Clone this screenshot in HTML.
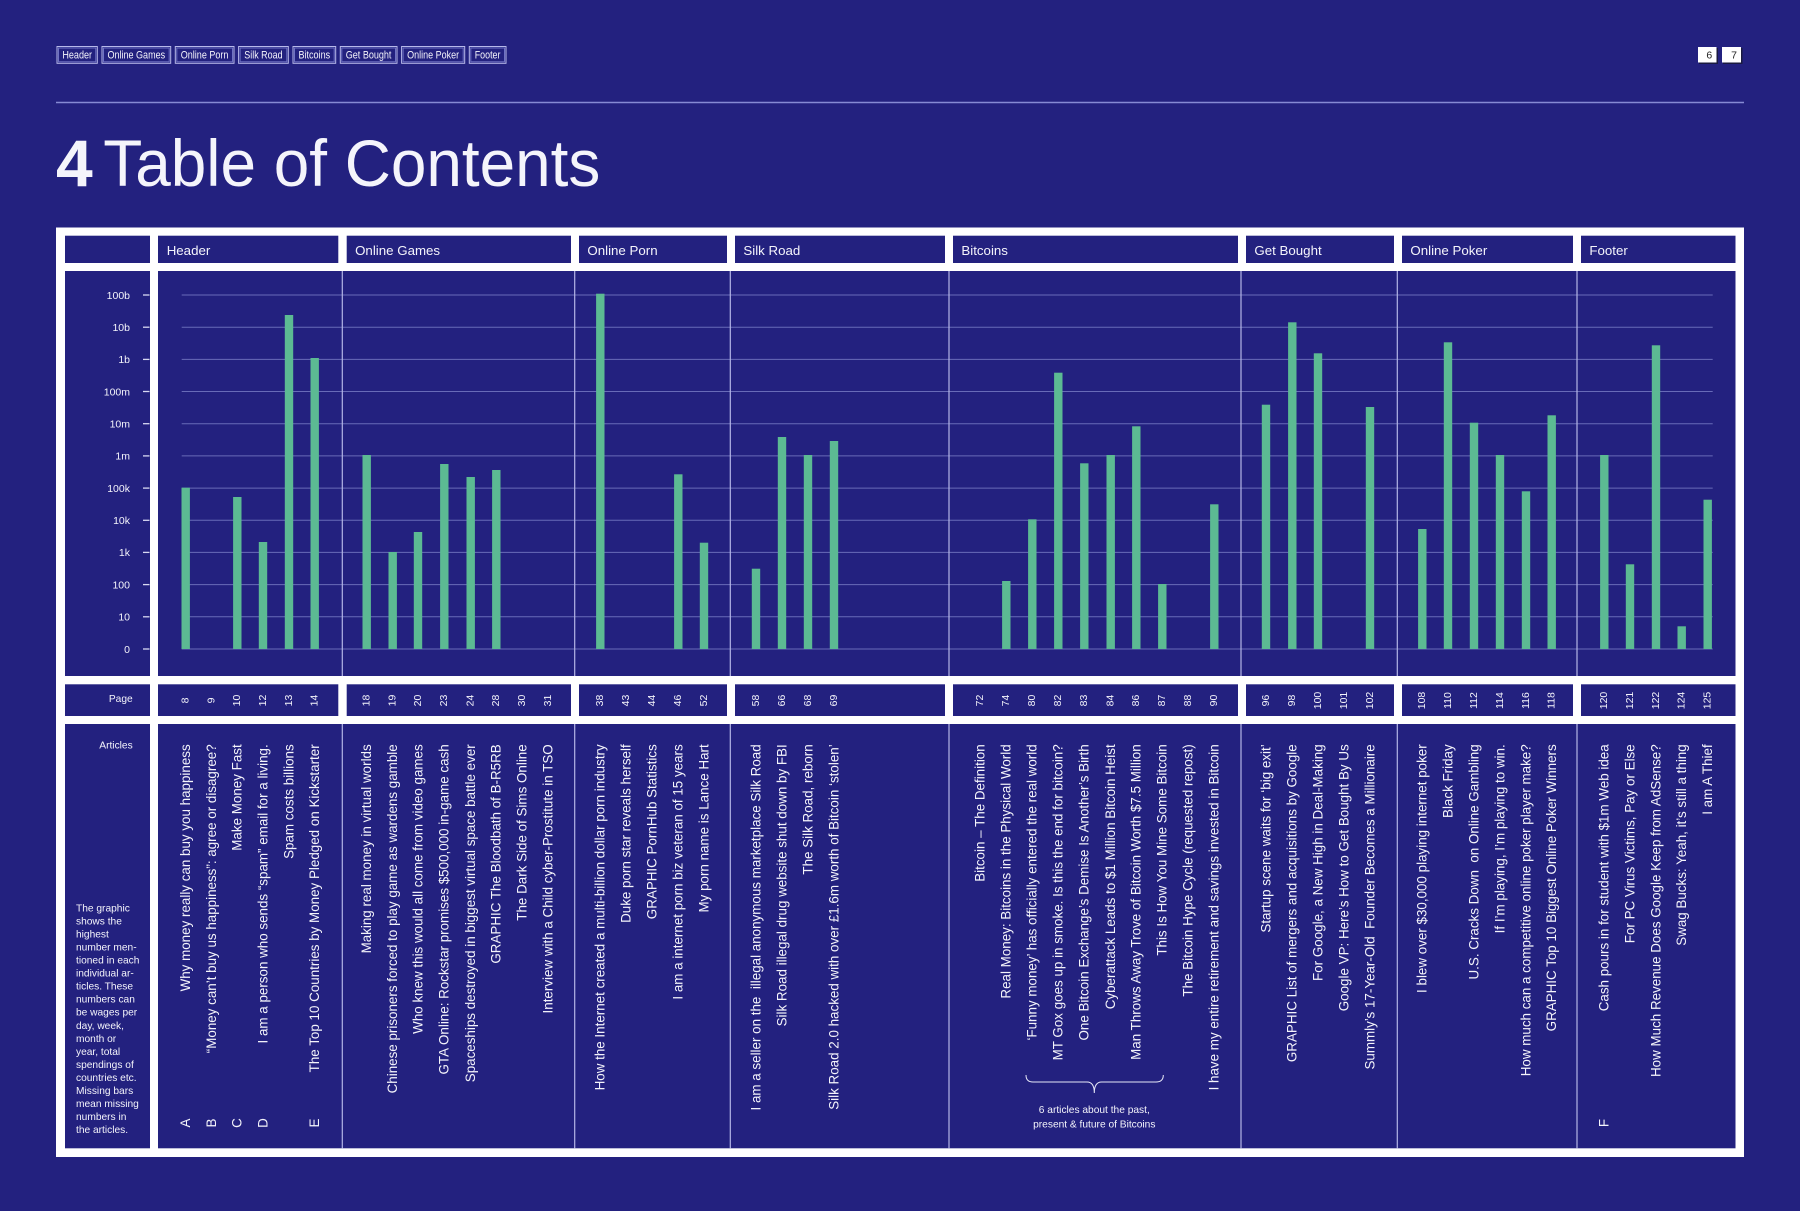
<!DOCTYPE html>
<html>
<head>
<meta charset="utf-8">
<style>
  html,body{margin:0;padding:0;background:#23217f;}
  svg{display:block;}
  text{font-family:"Liberation Sans",Arial,sans-serif;fill:#f4f4fb;}
  .nav{font-size:11px;}
  .hd{font-size:13.3px;}
  .yl{font-size:10.5px;}
  .pg{font-size:10.5px;}
  .ar{font-size:13.4px;}
  .sm{font-size:10.2px;}
  .grid{stroke:#8084cc;stroke-width:1;opacity:0.75;}
  .div{stroke:#b4b6e6;stroke-width:1.2;}
  .bar{fill:#5cba93;}
</style>
</head>
<body>
<svg width="1800" height="1211" viewBox="0 0 1800 1211" xmlns="http://www.w3.org/2000/svg">
  <rect x="0" y="0" width="1800" height="1211" fill="#23217f"/>

  <!-- nav buttons -->
  <g fill="none" stroke="#b7b9ea" stroke-width="1">
    <rect x="57" y="46.5" width="40.3" height="16.8"/>
    <rect x="102" y="46.5" width="68.7" height="16.8"/>
    <rect x="175.3" y="46.5" width="58.7" height="16.8"/>
    <rect x="238.6" y="46.5" width="49.7" height="16.8"/>
    <rect x="293" y="46.5" width="42.7" height="16.8"/>
    <rect x="340.3" y="46.5" width="56.7" height="16.8"/>
    <rect x="401.6" y="46.5" width="63.1" height="16.8"/>
    <rect x="469.3" y="46.5" width="36.7" height="16.8"/>
  </g>
  <g fill="none" stroke="#6f72c4" stroke-width="1">
    <rect x="58.5" y="48" width="37.3" height="13.8"/>
    <rect x="103.5" y="48" width="65.7" height="13.8"/>
    <rect x="176.8" y="48" width="55.7" height="13.8"/>
    <rect x="240.1" y="48" width="46.7" height="13.8"/>
    <rect x="294.5" y="48" width="39.7" height="13.8"/>
    <rect x="341.8" y="48" width="53.7" height="13.8"/>
    <rect x="403.1" y="48" width="60.1" height="13.8"/>
    <rect x="470.8" y="48" width="33.7" height="13.8"/>
  </g>
  <g class="nav" text-anchor="middle">
    <text x="77.2" y="58.6" textLength="29.7" lengthAdjust="spacingAndGlyphs">Header</text>
    <text x="136.3" y="58.6" textLength="57.7" lengthAdjust="spacingAndGlyphs">Online Games</text>
    <text x="204.6" y="58.6" textLength="47.7" lengthAdjust="spacingAndGlyphs">Online Porn</text>
    <text x="263.4" y="58.6" textLength="38.3" lengthAdjust="spacingAndGlyphs">Silk Road</text>
    <text x="314.3" y="58.6" textLength="31.7" lengthAdjust="spacingAndGlyphs">Bitcoins</text>
    <text x="368.6" y="58.6" textLength="45.7" lengthAdjust="spacingAndGlyphs">Get Bought</text>
    <text x="433.1" y="58.6" textLength="52" lengthAdjust="spacingAndGlyphs">Online Poker</text>
    <text x="487.6" y="58.6" textLength="25.7" lengthAdjust="spacingAndGlyphs">Footer</text>
  </g>

  <!-- page buttons -->
  <rect x="1699" y="48" width="19" height="16" fill="#1a1a40"/>
  <rect x="1698" y="47" width="18.5" height="15.5" fill="#ffffff"/>
  <rect x="1723" y="48" width="19.5" height="16" fill="#1a1a40"/>
  <rect x="1722" y="47" width="19" height="15.5" fill="#ffffff"/>
  <text x="1709.3" y="58.3" font-size="10.5" text-anchor="middle" style="fill:#222">6</text>
  <text x="1734" y="58.3" font-size="10.5" text-anchor="middle" style="fill:#222">7</text>

  <!-- rule -->
  <line x1="56" y1="102.5" x2="1744" y2="102.5" stroke="#868ad4" stroke-width="1.6"/>

  <!-- title -->
  <text x="56" y="186" font-size="66" font-weight="bold">4</text>
  <text x="103.3" y="186" font-size="66" textLength="497" lengthAdjust="spacingAndGlyphs">Table of Contents</text>

  <!-- frame -->
  <rect x="56" y="227.5" width="1688" height="929.5" fill="#ffffff"/>
  <g fill="#23217f">
    <!-- row 1 -->
    <rect x="65" y="235.7" width="85" height="27.3"/>
    <rect x="158" y="235.7" width="180.3" height="27.3"/>
    <rect x="346.7" y="235.7" width="224.3" height="27.3"/>
    <rect x="579" y="235.7" width="148" height="27.3"/>
    <rect x="735" y="235.7" width="210" height="27.3"/>
    <rect x="953" y="235.7" width="285" height="27.3"/>
    <rect x="1246" y="235.7" width="148" height="27.3"/>
    <rect x="1402" y="235.7" width="171" height="27.3"/>
    <rect x="1581" y="235.7" width="154.5" height="27.3"/>
    <!-- row 2 -->
    <rect x="65" y="271" width="85" height="405"/>
    <rect x="158" y="271" width="1577.5" height="405"/>
    <!-- row 3 -->
    <rect x="65" y="684.3" width="85" height="31.7"/>
    <rect x="158" y="684.3" width="180.3" height="31.7"/>
    <rect x="346.7" y="684.3" width="224.3" height="31.7"/>
    <rect x="579" y="684.3" width="148" height="31.7"/>
    <rect x="735" y="684.3" width="210" height="31.7"/>
    <rect x="953" y="684.3" width="285" height="31.7"/>
    <rect x="1246" y="684.3" width="148" height="31.7"/>
    <rect x="1402" y="684.3" width="171" height="31.7"/>
    <rect x="1581" y="684.3" width="154.5" height="31.7"/>
    <!-- row 4 -->
    <rect x="65" y="724" width="85" height="424.3"/>
    <rect x="158" y="724" width="1577.5" height="424.3"/>
  </g>

  <!-- section headers -->
  <g class="hd">
    <text x="166.7" y="254.8">Header</text>
    <text x="355.1" y="254.8">Online Games</text>
    <text x="587.4" y="254.8">Online Porn</text>
    <text x="743.4" y="254.8">Silk Road</text>
    <text x="961.4" y="254.8">Bitcoins</text>
    <text x="1254.4" y="254.8">Get Bought</text>
    <text x="1410.4" y="254.8">Online Poker</text>
    <text x="1589.4" y="254.8">Footer</text>
  </g>

  <!-- gridlines -->
  <g class="grid">
    <line x1="181.7" y1="295" x2="1712.7" y2="295"/>
    <line x1="181.7" y1="327.2" x2="1712.7" y2="327.2"/>
    <line x1="181.7" y1="359.4" x2="1712.7" y2="359.4"/>
    <line x1="181.7" y1="391.5" x2="1712.7" y2="391.5"/>
    <line x1="181.7" y1="423.7" x2="1712.7" y2="423.7"/>
    <line x1="181.7" y1="455.9" x2="1712.7" y2="455.9"/>
    <line x1="181.7" y1="488.1" x2="1712.7" y2="488.1"/>
    <line x1="181.7" y1="520.3" x2="1712.7" y2="520.3"/>
    <line x1="181.7" y1="552.4" x2="1712.7" y2="552.4"/>
    <line x1="181.7" y1="584.6" x2="1712.7" y2="584.6"/>
    <line x1="181.7" y1="616.8" x2="1712.7" y2="616.8"/>
    <line x1="181.7" y1="649" x2="1712.7" y2="649"/>
  </g>

  <!-- y axis ticks & labels -->
  <g stroke="#d8d9f2" stroke-width="1.3">
    <line x1="143" y1="295" x2="149.5" y2="295"/>
    <line x1="143" y1="327.2" x2="149.5" y2="327.2"/>
    <line x1="143" y1="359.4" x2="149.5" y2="359.4"/>
    <line x1="143" y1="391.5" x2="149.5" y2="391.5"/>
    <line x1="143" y1="423.7" x2="149.5" y2="423.7"/>
    <line x1="143" y1="455.9" x2="149.5" y2="455.9"/>
    <line x1="143" y1="488.1" x2="149.5" y2="488.1"/>
    <line x1="143" y1="520.3" x2="149.5" y2="520.3"/>
    <line x1="143" y1="552.4" x2="149.5" y2="552.4"/>
    <line x1="143" y1="584.6" x2="149.5" y2="584.6"/>
    <line x1="143" y1="616.8" x2="149.5" y2="616.8"/>
    <line x1="143" y1="649" x2="149.5" y2="649"/>
  </g>
  <g class="yl" text-anchor="end">
    <text x="130" y="298.8">100b</text>
    <text x="130" y="331">10b</text>
    <text x="130" y="363.2">1b</text>
    <text x="130" y="395.3">100m</text>
    <text x="130" y="427.5">10m</text>
    <text x="130" y="459.7">1m</text>
    <text x="130" y="491.9">100k</text>
    <text x="130" y="524.1">10k</text>
    <text x="130" y="556.2">1k</text>
    <text x="130" y="588.4">100</text>
    <text x="130" y="620.6">10</text>
    <text x="130" y="652.8">0</text>
  </g>

  <!-- dividers -->
  <g class="div">
    <line x1="342.3" y1="271" x2="342.3" y2="676"/>
    <line x1="574.7" y1="271" x2="574.7" y2="676"/>
    <line x1="730.3" y1="271" x2="730.3" y2="676"/>
    <line x1="949" y1="271" x2="949" y2="676"/>
    <line x1="1241" y1="271" x2="1241" y2="676"/>
    <line x1="1397.3" y1="271" x2="1397.3" y2="676"/>
    <line x1="1577" y1="271" x2="1577" y2="676"/>
    <line x1="342.3" y1="724" x2="342.3" y2="1148.3"/>
    <line x1="574.7" y1="724" x2="574.7" y2="1148.3"/>
    <line x1="730.3" y1="724" x2="730.3" y2="1148.3"/>
    <line x1="949" y1="724" x2="949" y2="1148.3"/>
    <line x1="1241" y1="724" x2="1241" y2="1148.3"/>
    <line x1="1397.3" y1="724" x2="1397.3" y2="1148.3"/>
    <line x1="1577" y1="724" x2="1577" y2="1148.3"/>
  </g>

  <!-- bars -->
  <g class="bar">
    <rect x="181.5" y="487.7" width="8.4" height="161.3"/>
    <rect x="233.1" y="497" width="8.4" height="152"/>
    <rect x="258.8" y="542" width="8.4" height="107"/>
    <rect x="284.8" y="315" width="8.4" height="334"/>
    <rect x="310.5" y="358" width="8.4" height="291"/>

    <rect x="362.5" y="455" width="8.4" height="194"/>
    <rect x="388.5" y="552" width="8.4" height="97"/>
    <rect x="413.8" y="532" width="8.4" height="117"/>
    <rect x="440.1" y="464" width="8.4" height="185"/>
    <rect x="466.5" y="477" width="8.4" height="172"/>
    <rect x="492.1" y="470" width="8.4" height="179"/>

    <rect x="596.1" y="293.7" width="8.4" height="355.3"/>
    <rect x="674.1" y="474.3" width="8.4" height="174.7"/>
    <rect x="699.8" y="542.7" width="8.4" height="106.3"/>

    <rect x="751.8" y="568.7" width="8.4" height="80.3"/>
    <rect x="777.8" y="437" width="8.4" height="212"/>
    <rect x="803.8" y="455" width="8.4" height="194"/>
    <rect x="829.8" y="441" width="8.4" height="208"/>

    <rect x="1002.1" y="581" width="8.4" height="68"/>
    <rect x="1028.1" y="519.3" width="8.4" height="129.7"/>
    <rect x="1054.1" y="372.7" width="8.4" height="276.3"/>
    <rect x="1080.1" y="463.3" width="8.4" height="185.7"/>
    <rect x="1106.5" y="455" width="8.4" height="194"/>
    <rect x="1132.1" y="426.3" width="8.4" height="222.7"/>
    <rect x="1158.1" y="584" width="8.4" height="65"/>
    <rect x="1210.1" y="504.3" width="8.4" height="144.7"/>

    <rect x="1261.8" y="404.7" width="8.4" height="244.3"/>
    <rect x="1288.1" y="322.3" width="8.4" height="326.7"/>
    <rect x="1313.8" y="353.3" width="8.4" height="295.7"/>
    <rect x="1365.8" y="407" width="8.4" height="242"/>

    <rect x="1418.1" y="529" width="8.4" height="120"/>
    <rect x="1443.8" y="342.3" width="8.4" height="306.7"/>
    <rect x="1469.8" y="422.7" width="8.4" height="226.3"/>
    <rect x="1495.8" y="455" width="8.4" height="194"/>
    <rect x="1521.8" y="491.3" width="8.4" height="157.7"/>
    <rect x="1547.5" y="415.3" width="8.4" height="233.7"/>

    <rect x="1600.1" y="455" width="8.4" height="194"/>
    <rect x="1625.8" y="564.3" width="8.4" height="84.7"/>
    <rect x="1651.8" y="345.3" width="8.4" height="303.7"/>
    <rect x="1677.5" y="626.3" width="8.4" height="22.7"/>
    <rect x="1703.5" y="499.7" width="8.4" height="149.3"/>
  </g>

  <!-- left column labels -->
  <text x="132.7" y="702" class="sm" text-anchor="end">Page</text>
  <text x="132.7" y="748.7" class="sm" text-anchor="end">Articles</text>
  <g class="sm">
    <text x="76" y="911.4">The graphic</text>
    <text x="76" y="924.4">shows the</text>
    <text x="76" y="937.5">highest</text>
    <text x="76" y="950.5">number men-</text>
    <text x="76" y="963.6">tioned in each</text>
    <text x="76" y="976.6">individual ar-</text>
    <text x="76" y="989.6">ticles. These</text>
    <text x="76" y="1002.7">numbers can</text>
    <text x="76" y="1015.7">be wages per</text>
    <text x="76" y="1028.8">day, week,</text>
    <text x="76" y="1041.8">month or</text>
    <text x="76" y="1054.8">year,  total</text>
    <text x="76" y="1067.9">spendings of</text>
    <text x="76" y="1080.9">countries etc.</text>
    <text x="76" y="1094">Missing bars</text>
    <text x="76" y="1107">mean missing</text>
    <text x="76" y="1120">numbers in</text>
    <text x="76" y="1133.1">the articles.</text>
  </g>

  <!-- page numbers -->
  <g class="pg" text-anchor="middle">
    <text transform="translate(188.5,700.5) rotate(-90)">8</text>
    <text transform="translate(214.3,700.5) rotate(-90)">9</text>
    <text transform="translate(240.1,700.5) rotate(-90)">10</text>
    <text transform="translate(265.8,700.5) rotate(-90)">12</text>
    <text transform="translate(291.8,700.5) rotate(-90)">13</text>
    <text transform="translate(317.5,700.5) rotate(-90)">14</text>

    <text transform="translate(369.5,700.5) rotate(-90)">18</text>
    <text transform="translate(395.5,700.5) rotate(-90)">19</text>
    <text transform="translate(420.8,700.5) rotate(-90)">20</text>
    <text transform="translate(447.1,700.5) rotate(-90)">23</text>
    <text transform="translate(473.5,700.5) rotate(-90)">24</text>
    <text transform="translate(499.1,700.5) rotate(-90)">28</text>
    <text transform="translate(525,700.5) rotate(-90)">30</text>
    <text transform="translate(550.8,700.5) rotate(-90)">31</text>

    <text transform="translate(603.1,700.5) rotate(-90)">38</text>
    <text transform="translate(629.1,700.5) rotate(-90)">43</text>
    <text transform="translate(655.1,700.5) rotate(-90)">44</text>
    <text transform="translate(681.1,700.5) rotate(-90)">46</text>
    <text transform="translate(706.8,700.5) rotate(-90)">52</text>

    <text transform="translate(758.8,700.5) rotate(-90)">58</text>
    <text transform="translate(784.8,700.5) rotate(-90)">66</text>
    <text transform="translate(810.8,700.5) rotate(-90)">68</text>
    <text transform="translate(836.8,700.5) rotate(-90)">69</text>

    <text transform="translate(983.1,700.5) rotate(-90)">72</text>
    <text transform="translate(1009.1,700.5) rotate(-90)">74</text>
    <text transform="translate(1035.1,700.5) rotate(-90)">80</text>
    <text transform="translate(1061.1,700.5) rotate(-90)">82</text>
    <text transform="translate(1087.1,700.5) rotate(-90)">83</text>
    <text transform="translate(1113.5,700.5) rotate(-90)">84</text>
    <text transform="translate(1139.1,700.5) rotate(-90)">86</text>
    <text transform="translate(1165.1,700.5) rotate(-90)">87</text>
    <text transform="translate(1191.1,700.5) rotate(-90)">88</text>
    <text transform="translate(1217.1,700.5) rotate(-90)">90</text>

    <text transform="translate(1268.8,700.5) rotate(-90)">96</text>
    <text transform="translate(1295.1,700.5) rotate(-90)">98</text>
    <text transform="translate(1320.8,700.5) rotate(-90)">100</text>
    <text transform="translate(1346.8,700.5) rotate(-90)">101</text>
    <text transform="translate(1372.8,700.5) rotate(-90)">102</text>

    <text transform="translate(1425.1,700.5) rotate(-90)">108</text>
    <text transform="translate(1450.8,700.5) rotate(-90)">110</text>
    <text transform="translate(1476.8,700.5) rotate(-90)">112</text>
    <text transform="translate(1502.8,700.5) rotate(-90)">114</text>
    <text transform="translate(1528.8,700.5) rotate(-90)">116</text>
    <text transform="translate(1554.5,700.5) rotate(-90)">118</text>

    <text transform="translate(1607.1,700.5) rotate(-90)">120</text>
    <text transform="translate(1632.8,700.5) rotate(-90)">121</text>
    <text transform="translate(1658.8,700.5) rotate(-90)">122</text>
    <text transform="translate(1684.5,700.5) rotate(-90)">124</text>
    <text transform="translate(1710.5,700.5) rotate(-90)">125</text>
  </g>

  <!-- article titles -->
  <g class="ar" text-anchor="end">
    <text transform="translate(190,744.3) rotate(-90)">Why money really can buy you happiness</text>
    <text transform="translate(215.8,744.3) rotate(-90)">“Money can’t buy us happiness”: agree or disagree?</text>
    <text transform="translate(241.6,744.3) rotate(-90)">Make Money Fast</text>
    <text transform="translate(267.3,744.3) rotate(-90)">I am a person who sends “spam” email for a living.</text>
    <text transform="translate(293.3,744.3) rotate(-90)">Spam costs billions</text>
    <text transform="translate(319,744.3) rotate(-90)">The Top 10 Countries by Money Pledged on Kickstarter</text>

    <text transform="translate(371,744.3) rotate(-90)">Making real money in virtual worlds</text>
    <text transform="translate(397,744.3) rotate(-90)">Chinese prisoners forced to play game as wardens gamble</text>
    <text transform="translate(422.3,744.3) rotate(-90)">Who knew this would all come from video games</text>
    <text transform="translate(448.6,744.3) rotate(-90)">GTA Online: Rockstar promises $500,000 in-game cash</text>
    <text transform="translate(475,744.3) rotate(-90)">Spaceships destroyed in biggest virtual space battle ever</text>
    <text transform="translate(500.6,744.3) rotate(-90)">GRAPHIC The Bloodbath of B-R5RB</text>
    <text transform="translate(526.5,744.3) rotate(-90)">The Dark Side of Sims Online</text>
    <text transform="translate(552.3,744.3) rotate(-90)">Interview with a Child cyber-Prostitute in TSO</text>

    <text transform="translate(604.6,744.3) rotate(-90)">How the Internet created a multi-billion dollar porn industry</text>
    <text transform="translate(630.6,744.3) rotate(-90)">Duke porn star reveals herself</text>
    <text transform="translate(656.6,744.3) rotate(-90)">GRAPHIC PornHub Statistics</text>
    <text transform="translate(682.6,744.3) rotate(-90)">I am a internet porn biz veteran of 15 years</text>
    <text transform="translate(708.3,744.3) rotate(-90)">My porn name is Lance Hart</text>

    <text transform="translate(760.3,744.3) rotate(-90)" xml:space="preserve">I am a seller on the  illegal anonymous marketplace Silk Road</text>
    <text transform="translate(786.3,744.3) rotate(-90)">Silk Road illegal drug website shut down by FBI</text>
    <text transform="translate(812.3,744.3) rotate(-90)">The Silk Road, reborn</text>
    <text transform="translate(838.3,744.3) rotate(-90)">Silk Road 2.0 hacked with over £1.6m worth of Bitcoin ‘stolen’</text>

    <text transform="translate(984.6,744.3) rotate(-90)">Bitcoin – The Definition</text>
    <text transform="translate(1010.6,744.3) rotate(-90)">Real Money: Bitcoins in the Physical World</text>
    <text transform="translate(1036.6,744.3) rotate(-90)">‘Funny money’ has officially entered the real world</text>
    <text transform="translate(1062.6,744.3) rotate(-90)">MT Gox goes up in smoke. Is this the end for bitcoin?</text>
    <text transform="translate(1088.6,744.3) rotate(-90)">One Bitcoin Exchange’s Demise Is Another’s Birth</text>
    <text transform="translate(1115,744.3) rotate(-90)">Cyberattack Leads to $1 Million Bitcoin Heist</text>
    <text transform="translate(1140.6,744.3) rotate(-90)">Man Throws Away Trove of Bitcoin Worth $7.5 Million</text>
    <text transform="translate(1166.6,744.3) rotate(-90)">This Is How You Mine Some Bitcoin</text>
    <text transform="translate(1192.6,744.3) rotate(-90)">The Bitcoin Hype Cycle (requested repost)</text>
    <text transform="translate(1218.6,744.3) rotate(-90)">I have my entire retirement and savings invested in Bitcoin</text>

    <text transform="translate(1270.3,744.3) rotate(-90)">Startup scene waits for ‘big exit’</text>
    <text transform="translate(1296.6,744.3) rotate(-90)">GRAPHIC List of mergers and acquisitions by Google</text>
    <text transform="translate(1322.3,744.3) rotate(-90)">For Google, a New High in Deal-Making</text>
    <text transform="translate(1348.3,744.3) rotate(-90)">Google VP: Here’s How to Get Bought By Us</text>
    <text transform="translate(1374.3,744.3) rotate(-90)" xml:space="preserve">Summly’s 17-Year-Old  Founder Becomes a Millionaire</text>

    <text transform="translate(1426.6,744.3) rotate(-90)">I blew over $30,000 playing internet poker</text>
    <text transform="translate(1452.3,744.3) rotate(-90)">Black Friday</text>
    <text transform="translate(1478.3,744.3) rotate(-90)" xml:space="preserve">U.S. Cracks Down  on Online Gambling</text>
    <text transform="translate(1504.3,744.3) rotate(-90)">If I’m playing, I’m playing to win.</text>
    <text transform="translate(1530.3,744.3) rotate(-90)">How much can a competitive online poker player make?</text>
    <text transform="translate(1556,744.3) rotate(-90)">GRAPHIC Top 10 Biggest Online Poker Winners</text>

    <text transform="translate(1608.6,744.3) rotate(-90)">Cash pours in for student with $1m Web idea</text>
    <text transform="translate(1634.3,744.3) rotate(-90)">For PC Virus Victims, Pay or Else</text>
    <text transform="translate(1660.3,744.3) rotate(-90)">How Much Revenue Does Google Keep from AdSense?</text>
    <text transform="translate(1686,744.3) rotate(-90)">Swag Bucks: Yeah, it’s still a thing</text>
    <text transform="translate(1712,744.3) rotate(-90)">I am A Thief</text>
  </g>

  <!-- letters -->
  <g class="ar" text-anchor="middle">
    <text transform="translate(190,1123) rotate(-90)">A</text>
    <text transform="translate(215.8,1123) rotate(-90)">B</text>
    <text transform="translate(241.6,1123) rotate(-90)">C</text>
    <text transform="translate(267.3,1123) rotate(-90)">D</text>
    <text transform="translate(319,1123) rotate(-90)">E</text>
    <text transform="translate(1608.6,1123) rotate(-90)">F</text>
  </g>

  <!-- brace annotation -->
  <path d="M1026,1075 Q1026,1082 1033,1082 L1087,1082 Q1094.3,1082 1094.3,1093 Q1094.3,1082 1101.6,1082 L1156,1082 Q1163.3,1082 1163.3,1075" fill="none" stroke="#e6e7f7" stroke-width="1"/>
  <g class="sm" text-anchor="middle">
    <text x="1094.3" y="1113">6 articles about the past,</text>
    <text x="1094.3" y="1127.7">present &amp; future of Bitcoins</text>
  </g>
</svg>
</body>
</html>
